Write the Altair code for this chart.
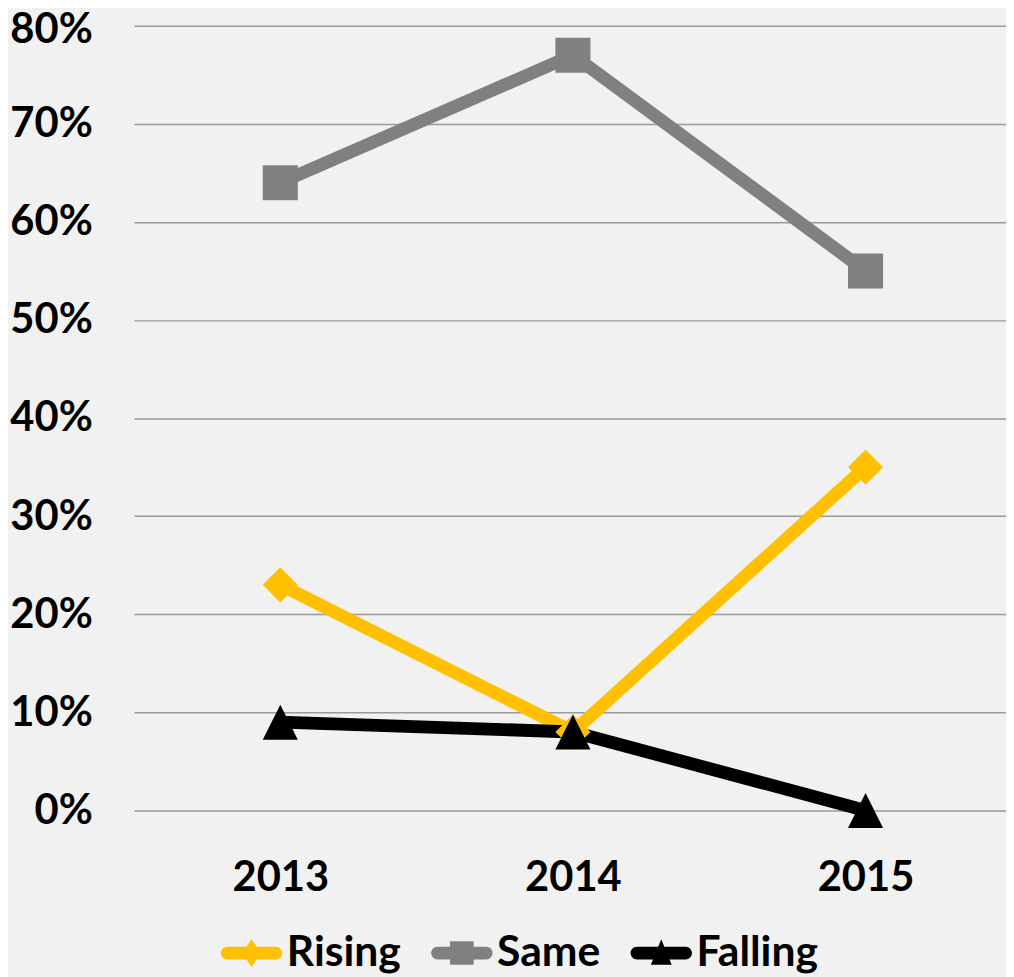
import altair as alt
import pandas as pd

# ---- data ----
years = [2013, 2014, 2015]
series = ["Rising", "Same", "Falling"]
rising = [0.23, 0.08, 0.35]
same = [0.64, 0.77, 0.55]
falling = [0.09, 0.08, 0.00]
colors = ["#FFC000", "#808080", "#000000"]
y_ticks = [0.0, 0.1, 0.2, 0.3, 0.4, 0.5, 0.6, 0.7, 0.8]

# marker shapes (plot) and line+marker shapes (legend)
marker_paths = [
    "M0,-1L1,0L0,1L-1,0Z",
    "M-1,-1H1V1H-1Z",
    "M0,-1L1,1L-1,1Z",
]
LINE = "M-1.75,-0.46H1.75A0.46,0.46 0 0 1 1.75,0.46H-1.75A0.46,0.46 0 0 1 -1.75,-0.46Z"
legend_paths = [
    LINE + " M0,-1L0.68,0L0,1L-0.68,0Z",
    LINE + " M-0.85,-0.85H0.85V0.85H-0.85Z",
    LINE + " M0,-1L0.75,0.85L-0.75,0.85Z",
]

rows = []
for s, vals in zip(series, [rising, same, falling]):
    for yr, v in zip(years, vals):
        rows.append({"year": yr, "series": s, "value": v})
df = pd.DataFrame(rows)

FONT = "Lato"
FS = 42

x_enc = alt.X(
    "year:Q",
    scale=alt.Scale(domain=[2012.5, 2015.48], nice=False, zero=False),
    axis=alt.Axis(
        values=years, format="d", title=None, grid=False, ticks=False,
        domain=False, labelFont=FONT, labelFontSize=FS, labelFontWeight="bold",
        labelColor="#000000", labelPadding=48, labelFlush=False,
    ),
)
y_enc = alt.Y(
    "value:Q",
    scale=alt.Scale(domain=[0, 0.8], nice=False),
    axis=alt.Axis(
        values=y_ticks, format=".0%", title=None, grid=True,
        gridColor="#9a9a9a", gridWidth=1.5, ticks=False, domain=False,
        labelFont=FONT, labelFontSize=FS, labelFontWeight="bold",
        labelColor="#000000", labelPadding=42, labelFlush=False,
        labelOffset={"condition": {"test": "datum.value >= 0.79", "value": 4}, "value": 0},
    ),
)
color_scale = alt.Scale(domain=series, range=colors)

base = alt.Chart(df)

lines = base.mark_line(strokeWidth=13, strokeJoin="round").encode(
    x=x_enc, y=y_enc,
    color=alt.Color("series:N", scale=color_scale, legend=None),
    order=alt.Order("year:Q"),
)

points = base.mark_point(filled=True, opacity=1, size=1250).encode(
    x=x_enc, y=y_enc,
    color=alt.Color("series:N", scale=color_scale, legend=None),
    shape=alt.Shape("series:N", scale=alt.Scale(domain=series, range=marker_paths), legend=None),
)

legend_props = dict(
    title=None, orient="none", direction="horizontal",
    legendX=97, legendY=913,
    labelFont=FONT, labelFontSize=43, labelFontWeight="bold",
    labelColor="#000000", symbolSize=784, symbolStrokeWidth=0,
    labelOffset=14, columnPadding=29, symbolOpacity=1,
)

legend_layer = base.transform_filter("datum.value < 0").mark_point(
    filled=True, opacity=1
).encode(
    x=x_enc, y=y_enc,
    color=alt.Color("series:N", scale=color_scale, legend=alt.Legend(**legend_props)),
    shape=alt.Shape("series:N", scale=alt.Scale(domain=series, range=legend_paths),
                    legend=alt.Legend(**legend_props)),
)

chart = alt.layer(lines, points, legend_layer).resolve_scale(
    shape="independent", color="independent"
).properties(
    width=879, height=791,
    autosize=alt.AutoSizeParams(type="none"),
    padding={"left": 127, "top": 14, "right": 0, "bottom": 164},
    background="#f1f1f2",
).configure_view(stroke=None, fill="#f1f1f2")

chart.save("out.html", embed_options={"renderer": "svg", "actions": False})
